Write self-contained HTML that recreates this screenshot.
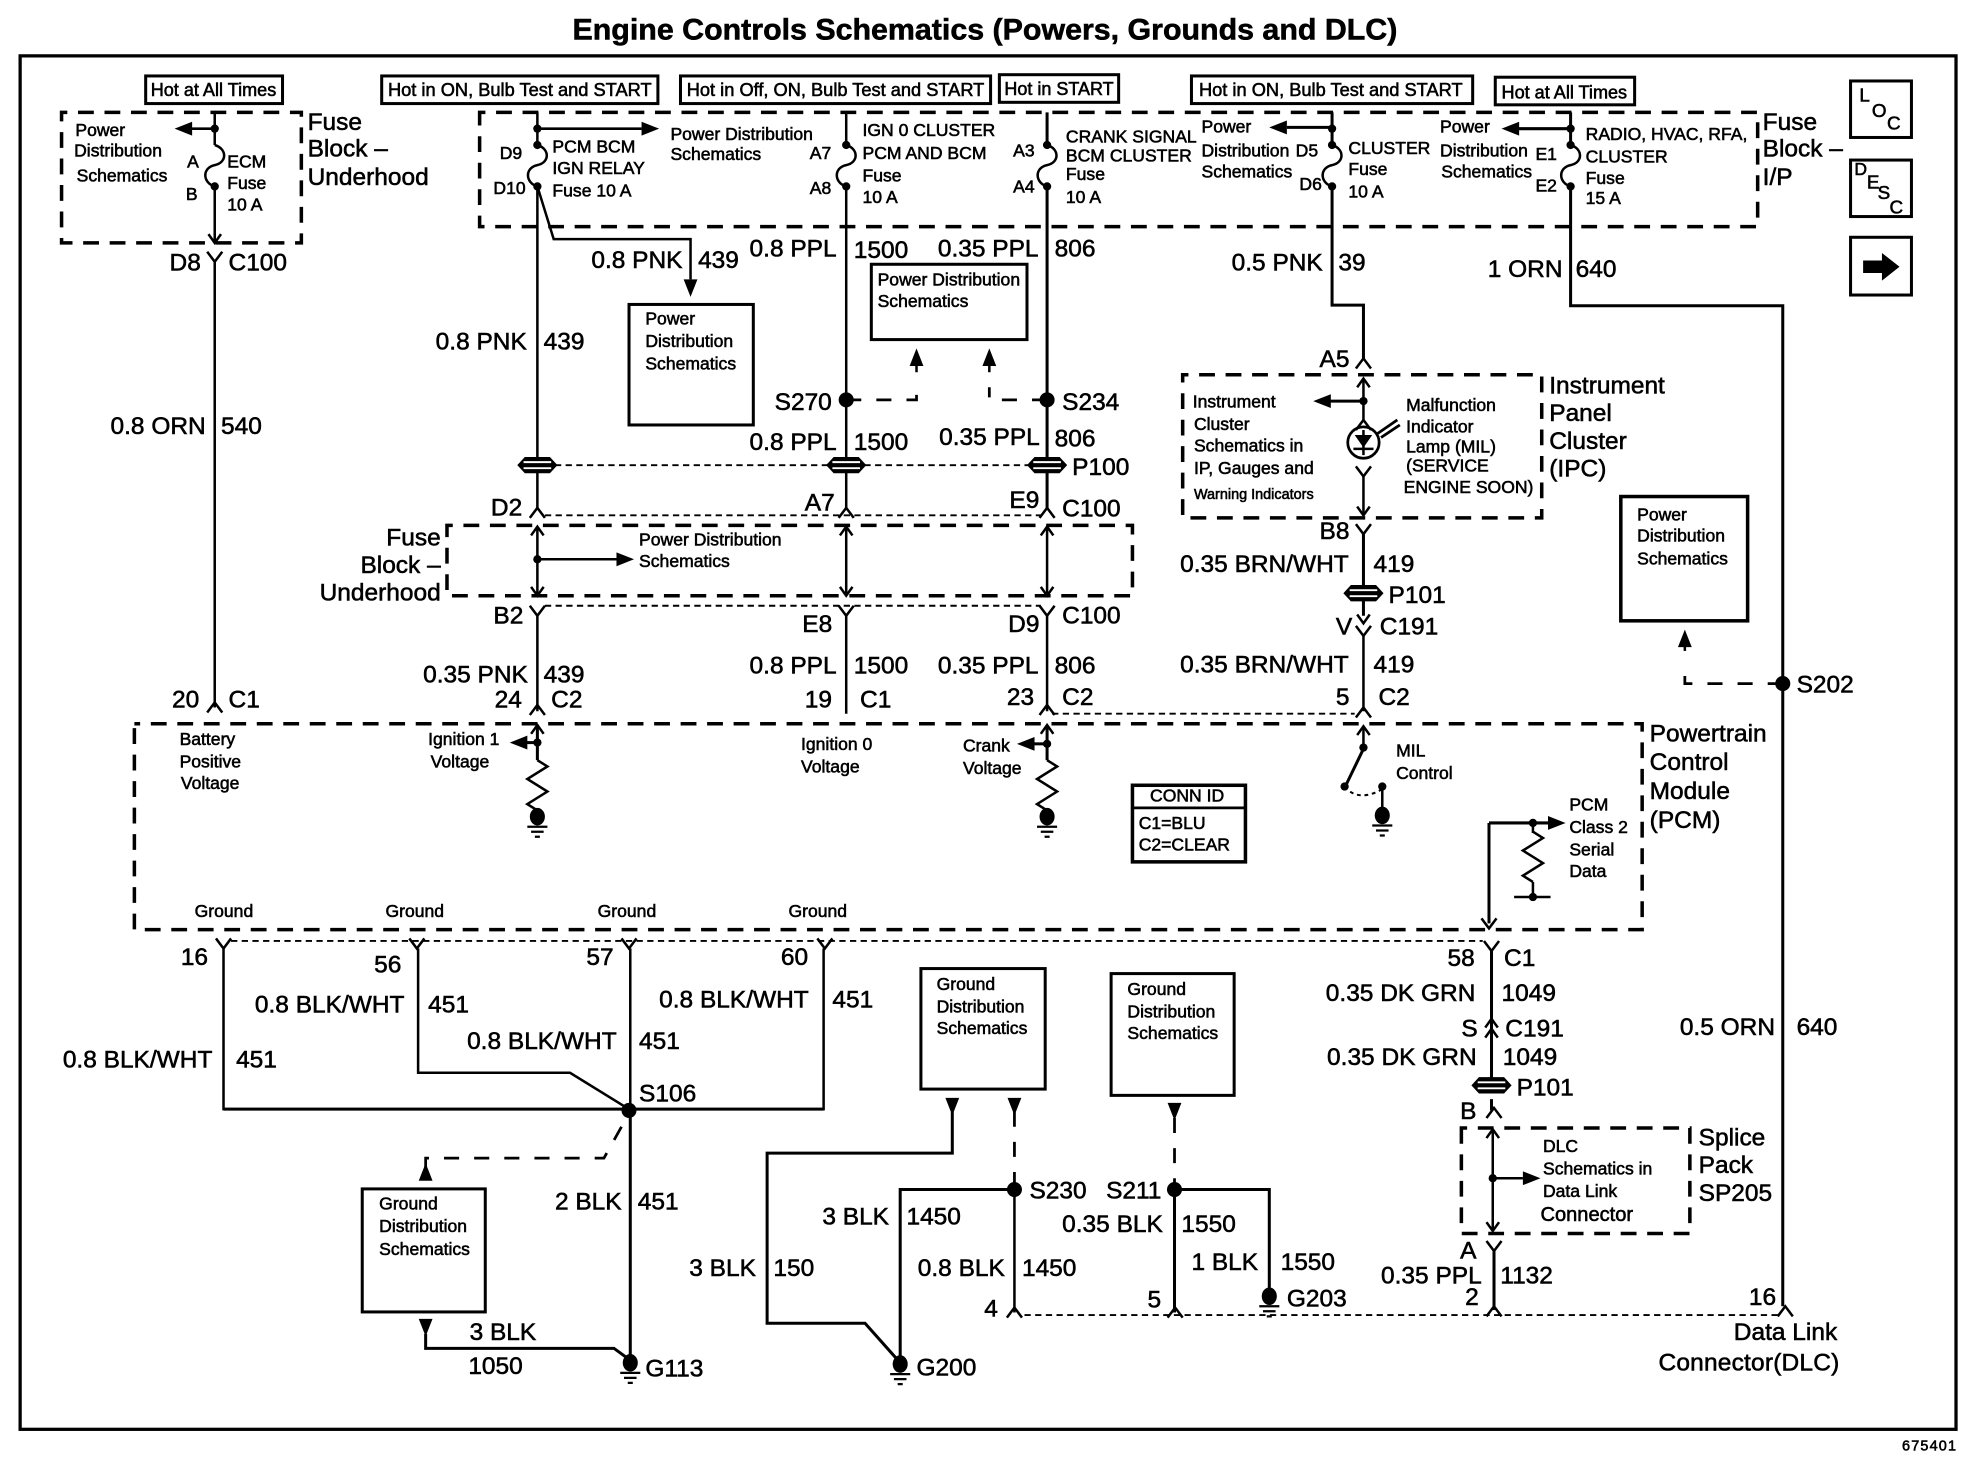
<!DOCTYPE html>
<html><head><meta charset="utf-8"><style>
html,body{margin:0;padding:0;background:#fff}
svg{display:block}
text{font-family:"Liberation Sans",sans-serif;fill:#000;stroke:#000;stroke-width:.45}
.b{font-size:19.5px}
.s{font-size:14px}
.h{font-size:14.5px}
.x{font-size:11.5px}
path,line,rect,polyline{fill:none;stroke:#000}
.w{stroke-width:2}
.k{stroke-width:2.4}
.dl{stroke-width:2.8;stroke-dasharray:12.6 8.5;stroke-dashoffset:8}
.dt{stroke-width:1.5;stroke-dasharray:5 3.5}
.dm{stroke-width:2.2;stroke-dasharray:12 12}
.f{fill:#000;stroke:none}
</style></head><body>
<svg xmlns="http://www.w3.org/2000/svg" width="1970" height="1472" viewBox="-1 -0.5 1569.1 1172.5">
<defs>
<path id="fz" d="M0 0C10 3 10 14 0 16C-10 18 -10 30 0 33" style="stroke-width:2"/>
<path id="Y" d="M-6 -8L0 0L6 -8" style="stroke-width:2"/>
<path id="A" d="M-6 8L0 0L6 8" style="stroke-width:2"/>
<circle id="d" r="3.3" class="f"/>
<circle id="D" r="6" class="f"/>
<g id="p"><path class="f" d="M-10 -6.5H10L16 0L10 6.5H-10L-16 0Z"/><path d="M-11 -2.4H11M-11 2.4H11" style="stroke:#fff;stroke-width:1.5"/></g>
<g id="g"><ellipse cx="0" cy="0" rx="6" ry="7" class="f"/><path d="M-8 8H8M-5 12H5M-2 16H2" style="stroke-width:1.8"/></g>
<path id="r" d="M0 0L8 5L-8 15L8 25L-8 35L0 40" style="stroke-width:2"/>
<path id="au" class="f" d="M0 0L-5.5 14H5.5Z"/>
<path id="ad" class="f" d="M0 0L-5.5 -14H5.5Z"/>
<path id="al" class="f" d="M0 0L14 -5.5V5.5Z"/>
<path id="ar" class="f" d="M0 0L-14 -5.5V5.5Z"/>
<path id="cu" d="M-5 7L0 0L5 7" style="stroke-width:2"/>
<path id="cd" d="M-5 -7L0 0L5 -7" style="stroke-width:2"/>
</defs>

<text x="455" y="31" textLength="657" lengthAdjust="spacingAndGlyphs" style="font-weight:700;font-size:23.5px">Engine Controls Schematics (Powers, Grounds and DLC)</text>
<rect x="15" y="44" width="1542" height="1094" style="stroke-width:2.6"/>
<text x="1514" y="1155" style="font-size:11.5px" textLength="43">675401</text>

<!-- hot boxes -->
<rect x="115" y="60" width="109" height="22" class="k"/><text class="h" x="119" y="76" textLength="100" lengthAdjust="spacingAndGlyphs">Hot at All Times</text>
<rect x="303" y="60" width="220" height="22" class="k"/><text class="h" x="308" y="76" textLength="210" lengthAdjust="spacingAndGlyphs">Hot in ON, Bulb Test and START</text>
<rect x="541" y="60" width="247" height="22" class="k"/><text class="h" x="546" y="76" textLength="237" lengthAdjust="spacingAndGlyphs">Hot in Off, ON, Bulb Test and START</text>
<rect x="795" y="59" width="95" height="22" class="k"/><text class="h" x="799" y="75" textLength="87" lengthAdjust="spacingAndGlyphs">Hot in START</text>
<rect x="948" y="60" width="224" height="22" class="k"/><text class="h" x="954" y="76" textLength="210" lengthAdjust="spacingAndGlyphs">Hot in ON, Bulb Test and START</text>
<rect x="1190" y="61" width="111" height="22" class="k"/><text class="h" x="1195" y="78" textLength="100" lengthAdjust="spacingAndGlyphs">Hot at All Times</text>

<!-- nav icons -->
<rect x="1473" y="64" width="48.5" height="45" class="k"/>
<text x="1480" y="80.5" style="font-size:15px">L</text><text x="1490" y="92.5" style="font-size:15px">O</text><text x="1502" y="102.6" style="font-size:15px">C</text>
<rect x="1473" y="127" width="48.5" height="45" class="k"/>
<text x="1476" y="139" style="font-size:14px">D</text><text x="1486" y="149.5" style="font-size:15px">E</text><text x="1494.6" y="158" style="font-size:15px">S</text><text x="1504" y="169.5" style="font-size:15px">C</text>
<rect x="1473" y="188.5" width="48.5" height="46" class="k"/>
<path class="f" d="M1483 207H1498V201L1512 212L1498 223V217H1483Z"/>

<!-- dashed modules -->
<rect x="48" y="89" width="191" height="104" class="dl"/>
<rect x="381" y="89" width="1018" height="91" class="dl"/>
<rect x="355" y="418" width="546" height="56" class="dl"/>
<rect x="941" y="298" width="286" height="114" class="dl"/>
<rect x="106" y="576" width="1201" height="164" class="dl"/>
<rect x="1163" y="898" width="182" height="84" class="dl"/>

<!-- module labels -->
<text class="b" x="244" y="103">Fuse</text><text class="b" x="244" y="124">Block –</text><text class="b" x="244" y="147">Underhood</text>
<text class="b" x="1403" y="103">Fuse</text><text class="b" x="1403" y="124">Block –</text><text class="b" x="1403" y="147">I/P</text>
<text class="b" x="350" y="434" text-anchor="end">Fuse</text><text class="b" x="350" y="456" text-anchor="end">Block –</text><text class="b" x="350" y="478" text-anchor="end">Underhood</text>
<text class="b" x="1233" y="313">Instrument</text><text class="b" x="1233" y="335">Panel</text><text class="b" x="1233" y="357">Cluster</text><text class="b" x="1233" y="379">(IPC)</text>
<text class="b" x="1313" y="590">Powertrain</text><text class="b" x="1313" y="613">Control</text><text class="b" x="1313" y="636">Module</text><text class="b" x="1313" y="659">(PCM)</text>
<text class="b" x="1352" y="912">Splice</text><text class="b" x="1352" y="934">Pack</text><text class="b" x="1352" y="956">SP205</text>
<text class="b" x="1380" y="1067">Data Link</text><text class="b" x="1320" y="1091" textLength="144">Connector(DLC)</text>

<!-- left fuse -->
<path class="w" d="M170 89V115M170 148V193"/>
<use href="#fz" x="170" y="115"/><use href="#d" x="170" y="102"/><use href="#d" x="170" y="148"/>
<path class="w" d="M170 102H150"/><use href="#al" x="138" y="102"/>
<use href="#cd" x="170" y="193"/>
<use href="#Y" x="170" y="208"/>
<path class="w" d="M170 208V563"/><use href="#A" x="170" y="559"/>
<text class="s" x="59" y="108">Power</text><text class="s" x="58" y="124">Distribution</text><text class="s" x="60" y="144">Schematics</text>
<text class="s" x="148" y="133">A</text><text class="s" x="147" y="159">B</text>
<text class="s" x="180" y="133">ECM</text><text class="s" x="180" y="150">Fuse</text><text class="s" x="180" y="167">10 A</text>
<text class="b" x="134" y="215">D8</text><text class="b" x="181" y="215">C100</text>
<text class="b" x="87" y="345">0.8 ORN</text><text class="b" x="175" y="345">540</text>
<text class="b" x="136" y="563">20</text><text class="b" x="181" y="563">C1</text>

<!-- 439 wire -->
<path class="w" d="M427 89V115M427 148V405"/>
<use href="#fz" x="427" y="115"/><use href="#d" x="427" y="102"/><use href="#d" x="427" y="115"/><use href="#d" x="427" y="148"/>
<path class="w" d="M427 102H510"/><use href="#ar" x="524" y="102"/>
<path class="w" d="M427 148L440 190H549V222"/><use href="#ad" x="549" y="236"/>
<text class="s" x="397" y="126">D9</text><text class="s" x="392" y="154">D10</text>
<text class="s" x="439" y="121">PCM BCM</text><text class="s" x="439" y="138">IGN RELAY</text><text class="s" x="439" y="156">Fuse 10 A</text>
<text class="s" x="533" y="111">Power Distribution</text><text class="s" x="533" y="127">Schematics</text>
<text class="b" x="470" y="213">0.8 PNK</text><text class="b" x="555" y="213">439</text>
<text class="b" x="346" y="278">0.8 PNK</text><text class="b" x="432" y="278">439</text>
<rect x="500" y="242" width="99" height="96" class="k"/>
<text class="s" x="513" y="258">Power</text><text class="s" x="513" y="276">Distribution</text><text class="s" x="513" y="294">Schematics</text>

<!-- 1500 wire -->
<path class="w" d="M673 89V115M673 148V405"/>
<use href="#fz" x="673" y="115"/><use href="#d" x="673" y="115"/><use href="#d" x="673" y="148"/>
<text class="s" x="644" y="126">A7</text><text class="s" x="644" y="154">A8</text>
<text class="s" x="686" y="108">IGN 0 CLUSTER</text><text class="s" x="686" y="126">PCM AND BCM</text><text class="s" x="686" y="144">Fuse</text><text class="s" x="686" y="161">10 A</text>
<text class="b" x="596" y="204">0.8 PPL</text><text class="b" x="679" y="205">1500</text>
<use href="#D" x="673" y="318"/>
<path class="dm" d="M673 318H729V308"/><path class="w" d="M729 296V286"/><use href="#au" x="729" y="277"/>
<text class="b" x="616" y="326">S270</text>
<text class="b" x="596" y="358">0.8 PPL</text><text class="b" x="679" y="358">1500</text>

<!-- 806 wire -->
<path class="k" d="M833 89V115M833 148V405"/>
<use href="#fz" x="833" y="115"/><use href="#d" x="833" y="115"/><use href="#d" x="833" y="148"/>
<text class="s" x="806" y="124">A3</text><text class="s" x="806" y="153">A4</text>
<text class="s" x="848" y="113">CRANK SIGNAL</text><text class="s" x="848" y="128">BCM CLUSTER</text><text class="s" x="848" y="143">Fuse</text><text class="s" x="848" y="161">10 A</text>
<text class="b" x="746" y="204">0.35 PPL</text><text class="b" x="839" y="204">806</text>
<use href="#D" x="833" y="318"/>
<path class="dm" d="M833 318H787V308"/><path class="w" d="M787 296V286"/><use href="#au" x="787" y="277"/>
<text class="b" x="845" y="326">S234</text>
<text class="b" x="747" y="354">0.35 PPL</text><text class="b" x="839" y="355">806</text>
<rect x="693" y="210" width="124" height="60" class="k"/>
<text class="s" x="698" y="227">Power Distribution</text><text class="s" x="698" y="244">Schematics</text>

<!-- P100 -->
<line x1="441" x2="819" y1="370" y2="370" class="dt"/>
<use href="#p" x="427" y="370"/><use href="#p" x="673" y="370"/><use href="#p" x="833" y="370"/>
<text class="b" x="853" y="378">P100</text>

<!-- C100 upper -->
<line x1="433" x2="828" y1="410" y2="410" class="dt"/>
<use href="#A" x="427" y="404"/><use href="#A" x="673" y="404"/><use href="#A" x="833" y="404"/>
<text class="b" x="390" y="410">D2</text><text class="b" x="640" y="406">A7</text><text class="b" x="803" y="404">E9</text><text class="b" x="845" y="411">C100</text>

<!-- fuse block underhood inner -->
<path class="w" d="M427 420V473M673 420V473M833 420V473"/>
<use href="#cu" x="427" y="419"/><use href="#cu" x="673" y="419"/><use href="#cu" x="833" y="419"/>
<use href="#cd" x="427" y="474"/><use href="#cd" x="673" y="474"/><use href="#cd" x="833" y="474"/>
<use href="#d" x="427" y="445"/><path class="w" d="M427 445H492"/><use href="#ar" x="504" y="445"/>
<text class="s" x="508" y="434">Power Distribution</text><text class="s" x="508" y="451">Schematics</text>

<!-- C100 lower -->
<line x1="433" x2="828" y1="482" y2="482" class="dt"/>
<use href="#Y" x="427" y="490"/><use href="#Y" x="673" y="490"/><use href="#Y" x="833" y="490"/>
<path class="w" d="M427 490V566M673 490V568M833 490V566"/>
<text class="b" x="392" y="496">B2</text><text class="b" x="638" y="503">E8</text><text class="b" x="802" y="503">D9</text><text class="b" x="845" y="496">C100</text>
<text class="b" x="336" y="543">0.35 PNK</text><text class="b" x="432" y="543">439</text>
<text class="b" x="596" y="536">0.8 PPL</text><text class="b" x="679" y="536">1500</text>
<text class="b" x="746" y="536">0.35 PPL</text><text class="b" x="839" y="536">806</text>
<text class="b" x="393" y="563">24</text><text class="b" x="438" y="563">C2</text>
<text class="b" x="640" y="563">19</text><text class="b" x="684" y="563">C1</text>
<text class="b" x="801" y="561">23</text><text class="b" x="845" y="561">C2</text>
<use href="#A" x="427" y="561"/><use href="#A" x="833" y="561"/>
<line x1="837" x2="1078" y1="568" y2="568" class="dt"/>

<!-- PCM inner: ignition 1 -->
<use href="#cu" x="427" y="577"/><path class="k" d="M427 578V605"/><use href="#d" x="427" y="591"/>
<path class="k" d="M427 591H418"/><use href="#al" x="405" y="591"/>
<use href="#r" x="427" y="605"/><use href="#g" x="427" y="650"/>
<!-- crank -->
<use href="#cu" x="833" y="577"/><path class="k" d="M833 578V605"/><use href="#d" x="833" y="592"/>
<path class="k" d="M833 592H822"/><use href="#al" x="809" y="592"/>
<use href="#r" x="833" y="605"/><use href="#g" x="833" y="650"/>
<text class="s" x="142" y="593">Battery</text><text class="s" x="142" y="611">Positive</text><text class="s" x="143" y="628">Voltage</text>
<text class="s" x="340" y="593">Ignition 1</text><text class="s" x="342" y="611">Voltage</text>
<text class="s" x="637" y="597">Ignition 0</text><text class="s" x="637" y="615">Voltage</text>
<text class="s" x="766" y="598">Crank</text><text class="s" x="766" y="616">Voltage</text>
<text class="s" x="154" y="730">Ground</text><text class="s" x="306" y="730">Ground</text><text class="s" x="475" y="730">Ground</text><text class="s" x="627" y="730">Ground</text>

<!-- conn id -->
<rect x="901" y="625" width="90" height="61" style="stroke-width:2.8"/><line x1="901" x2="991" y1="643" y2="643" style="stroke-width:2.2"/>
<text class="s" x="915" y="638">CONN ID</text><text class="s" x="906" y="660">C1=BLU</text><text class="s" x="906" y="677">C2=CLEAR</text>

<!-- 39 wire -->
<path class="k" d="M1060 89V115M1060 148V242.5H1085V285"/>
<use href="#fz" x="1060" y="115"/><use href="#d" x="1060" y="102"/><use href="#d" x="1060" y="115"/><use href="#d" x="1060" y="148"/>
<path class="k" d="M1060 101H1024"/><use href="#al" x="1010" y="101"/>
<text class="s" x="956" y="105">Power</text><text class="s" x="956" y="124">Distribution</text><text class="s" x="1031" y="124">D5</text><text class="s" x="956" y="141">Schematics</text><text class="s" x="1034" y="151">D6</text>
<text class="s" x="1073" y="122">CLUSTER</text><text class="s" x="1073" y="139">Fuse</text><text class="s" x="1073" y="157">10 A</text>
<text class="b" x="980" y="215">0.5 PNK</text><text class="b" x="1065" y="215">39</text>
<text class="b" x="1050" y="292">A5</text><use href="#A" x="1085" y="285"/>

<!-- 640 wire -->
<path class="k" d="M1250 89V115M1250 148V243H1419V1040"/>
<use href="#fz" x="1250" y="115"/><use href="#d" x="1250" y="102"/><use href="#d" x="1250" y="115"/><use href="#d" x="1250" y="148"/>
<path class="k" d="M1250 102H1208"/><use href="#al" x="1195" y="102"/>
<text class="s" x="1146" y="105">Power</text><text class="s" x="1146" y="124">Distribution</text><text class="s" x="1222" y="127">E1</text><text class="s" x="1147" y="141">Schematics</text><text class="s" x="1222" y="152">E2</text>
<text class="s" x="1262" y="111">RADIO, HVAC, RFA,</text><text class="s" x="1262" y="129">CLUSTER</text><text class="s" x="1262" y="146">Fuse</text><text class="s" x="1262" y="162">15 A</text>
<text class="b" x="1184" y="220">1 ORN</text><text class="b" x="1254" y="220">640</text>
<use href="#D" x="1419" y="544"/>
<path class="dm" d="M1419 544H1341V530"/><path class="w" d="M1341 518V512"/><use href="#au" x="1341" y="501"/>
<text class="b" x="1430" y="551">S202</text>
<rect x="1290" y="395" width="101" height="99" style="stroke-width:2.8"/>
<text class="s" x="1303" y="414">Power</text><text class="s" x="1303" y="431">Distribution</text><text class="s" x="1303" y="449">Schematics</text>
<text class="b" x="1337" y="824">0.5 ORN</text><text class="b" x="1430" y="824">640</text>
<text class="b" x="1392" y="1039">16</text><use href="#A" x="1421" y="1040"/>

<!-- IPC inner -->
<use href="#cu" x="1085" y="301"/><path class="w" d="M1085 301V335"/><use href="#d" x="1085" y="319"/>
<path class="k" d="M1085 319H1058"/><use href="#al" x="1045" y="319"/>
<use href="#A" x="1085" y="334"/>
<circle cx="1085" cy="352" r="12.5" style="fill:none;stroke:#000;stroke-width:2.2"/>
<path class="f" d="M1078 346H1092L1085 356Z"/><path class="w" d="M1085 342V362M1077 357H1093"/>
<path d="M1096 345L1112 334M1099 348L1114 338" style="stroke-width:2.2"/>
<use href="#Y" x="1085" y="379"/><path class="w" d="M1085 379V409"/><use href="#cd" x="1085" y="410"/>
<text class="s" x="949" y="324">Instrument</text><text class="s" x="950" y="342">Cluster</text><text class="s" x="950" y="359">Schematics in</text><text class="s" x="950" y="377">IP, Gauges  and</text><text class="x" x="950" y="397">Warning Indicators</text>
<text class="s" x="1119" y="327">Malfunction</text><text class="s" x="1119" y="344">Indicator</text><text class="s" x="1119" y="360">Lamp (MIL)</text><text class="s" x="1119" y="375">(SERVICE</text><text class="s" x="1117" y="392">ENGINE SOON)</text>
<text class="b" x="1050" y="429">B8</text><use href="#Y" x="1085" y="425"/>
<path class="k" d="M1085 425V490"/>
<text class="b" x="939" y="455">0.35 BRN/WHT</text><text class="b" x="1093" y="455">419</text>
<use href="#p" x="1085" y="472"/><text class="b" x="1105" y="480">P101</text>
<text class="b" x="1063" y="505">V</text><use href="#cd" x="1085" y="496"/><use href="#Y" x="1085" y="506"/>
<text class="b" x="1098" y="505">C191</text>
<path class="w" d="M1085 506V566"/><use href="#A" x="1085" y="563"/>
<text class="b" x="939" y="535">0.35 BRN/WHT</text><text class="b" x="1093" y="535">419</text>
<text class="b" x="1063" y="561">5</text><text class="b" x="1097" y="561">C2</text>

<!-- MIL switch -->
<use href="#cu" x="1085" y="578"/><path class="w" d="M1085 578V596"/><use href="#d" x="1085" y="595"/>
<path class="k" d="M1085 596L1071 625"/><use href="#d" x="1070" y="626"/>
<path d="M1070 626C1078 636 1090 634 1100 628" style="stroke-width:1.6;stroke-dasharray:3 3"/>
<use href="#d" x="1100" y="626"/><path class="w" d="M1100 626V645"/><use href="#g" x="1100" y="649"/>
<text class="s" x="1111" y="602">MIL</text><text class="s" x="1111" y="620">Control</text>

<!-- serial data -->
<path class="k" d="M1185 655H1235M1185 655V735"/><use href="#ar" x="1246" y="655"/><use href="#d" x="1220" y="655"/>
<use href="#r" x="1220" y="662"/><path class="w" d="M1220 655V663M1220 702V714M1205 714H1234"/><use href="#d" x="1220" y="714"/>
<path class="w" d="M1179 731L1185 739L1191 731"/>
<text class="s" x="1249" y="645">PCM</text><text class="s" x="1249" y="663">Class 2</text><text class="s" x="1249" y="681">Serial</text><text class="s" x="1249" y="698">Data</text>

<!-- ground row -->
<line x1="183" x2="1180" y1="749" y2="749" class="dt"/>
<use href="#Y" x="177" y="755"/><use href="#Y" x="331" y="755"/><use href="#Y" x="500" y="755"/><use href="#Y" x="656" y="755"/>
<path class="w" d="M177 755V883H655V755M332 755V854H453L500 883M501 755V883"/>
<path class="k" d="M177 883H655M501 883V1082"/>
<use href="#D" x="500" y="884"/>
<text class="b" x="143" y="768">16</text><text class="b" x="297" y="774">56</text><text class="b" x="466" y="768">57</text><text class="b" x="621" y="768">60</text>
<text class="b" x="202" y="806">0.8 BLK/WHT</text><text class="b" x="340" y="806">451</text>
<text class="b" x="524" y="802">0.8 BLK/WHT</text><text class="b" x="662" y="802">451</text>
<text class="b" x="371" y="835">0.8 BLK/WHT</text><text class="b" x="508" y="835">451</text>
<text class="b" x="49" y="850">0.8 BLK/WHT</text><text class="b" x="187" y="850">451</text>
<text class="b" x="508" y="877">S106</text>

<!-- ground dist left -->
<path class="dm" d="M494 897L480 922H338V932"/><use href="#au" x="338" y="926"/>
<rect x="287.5" y="946.5" width="98" height="98" class="k"/>
<text class="s" x="301" y="963">Ground</text><text class="s" x="301" y="981">Distribution</text><text class="s" x="301" y="999">Schematics</text>
<use href="#ad" x="338" y="1064"/><path class="k" d="M338 1062V1073.5H488L501 1083"/>
<text class="b" x="373" y="1067">3 BLK</text><text class="b" x="372" y="1094">1050</text>
<text class="b" x="441" y="963">2 BLK</text><text class="b" x="507" y="963">451</text>
<use href="#g" x="501" y="1085"/><text class="b" x="513" y="1096">G113</text>

<!-- ground dist mid -->
<rect x="732.5" y="771" width="99" height="96" class="k"/>
<text class="s" x="745" y="788">Ground</text><text class="s" x="745" y="806">Distribution</text><text class="s" x="745" y="823">Schematics</text>
<use href="#ad" x="757.5" y="888"/><use href="#ad" x="807" y="888"/>
<path class="k" d="M757.5 885V918H610V1053.5H688L716 1085"/>
<path class="dm" d="M807 885V947"/>
<use href="#D" x="807" y="947"/><path class="k" d="M807 947H716V1085"/><path class="w" d="M807 947V1045"/>
<use href="#g" x="716" y="1086"/><text class="b" x="729" y="1095">G200</text>
<text class="b" x="819" y="954">S230</text>
<text class="b" x="654" y="975">3 BLK</text><text class="b" x="721" y="975">1450</text>
<text class="b" x="548" y="1016">3 BLK</text><text class="b" x="615" y="1016">150</text>
<text class="b" x="730" y="1016">0.8 BLK</text><text class="b" x="813" y="1016">1450</text>
<text class="b" x="783" y="1048">4</text><use href="#A" x="807" y="1041"/>

<rect x="884" y="775" width="98" height="97" class="k"/>
<text class="s" x="897" y="792">Ground</text><text class="s" x="897" y="810">Distribution</text><text class="s" x="897" y="827">Schematics</text>
<use href="#ad" x="934.5" y="892"/>
<path class="dm" d="M934.5 890V947"/><use href="#D" x="934.5" y="947"/>
<path class="k" d="M934.5 947H1010V1030M934.5 947V1045"/>
<use href="#g" x="1010" y="1032"/><text class="b" x="1024" y="1040">G203</text>
<text class="b" x="880" y="954">S211</text>
<text class="b" x="845" y="981">0.35 BLK</text><text class="b" x="940" y="981">1550</text>
<text class="b" x="948" y="1011">1 BLK</text><text class="b" x="1019" y="1011">1550</text>
<text class="b" x="913" y="1041">5</text><use href="#A" x="935" y="1041"/>
<line x1="815" x2="1415" y1="1047" y2="1047" class="dt"/>

<!-- 1049 -->
<use href="#Y" x="1187" y="757"/>
<path class="k" d="M1187 757V858M1187 875V884"/>
<text class="b" x="1152" y="769">58</text><text class="b" x="1197" y="769">C1</text>
<text class="b" x="1055" y="797">0.35 DK GRN</text><text class="b" x="1195" y="797">1049</text>
<text class="b" x="1163" y="825">S</text><use href="#cu" x="1187" y="811"/><use href="#cu" x="1187" y="819"/>
<text class="b" x="1198" y="825">C191</text>
<text class="b" x="1056" y="848">0.35 DK GRN</text><text class="b" x="1196" y="848">1049</text>
<use href="#p" x="1187" y="864"/><text class="b" x="1207" y="872">P101</text>
<text class="b" x="1162" y="891">B</text><use href="#A" x="1189" y="882"/>

<!-- splice pack -->
<use href="#cu" x="1188" y="899"/><use href="#cd" x="1188" y="980"/>
<path class="w" d="M1188 899V980M1188 938H1212"/><use href="#d" x="1188" y="938"/><use href="#ar" x="1226" y="938"/>
<text class="s" x="1228" y="917">DLC</text><text class="s" x="1228" y="935">Schematics in</text><text class="s" x="1228" y="953">Data Link</text><text x="1226" y="972" style="font-size:16px">Connector</text>
<use href="#Y" x="1189" y="996"/><path class="k" d="M1189 996V1043"/>
<text class="b" x="1162" y="1002">A</text>
<text class="b" x="1099" y="1022">0.35 PPL</text><text class="b" x="1194" y="1022">1132</text>
<text class="b" x="1166" y="1039">2</text><use href="#A" x="1189" y="1040"/>
</svg>
</body></html>
